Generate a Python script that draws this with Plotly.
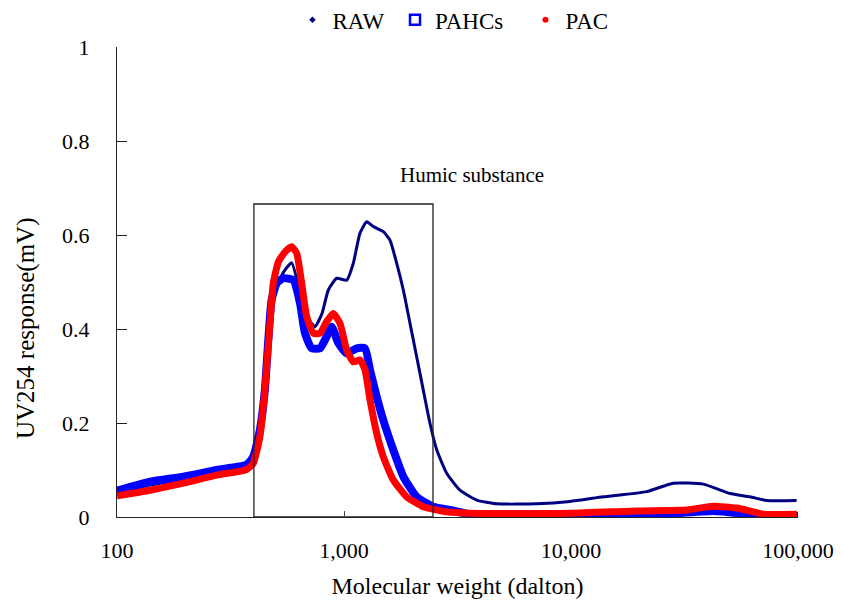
import math
import plotly.graph_objects as go

# ---------------- data ----------------
raw_mw = [100, 140, 196, 275, 372, 398, 426, 448, 464, 480, 505, 540, 588, 651, 700, 745,
          800, 853, 929, 1028, 1099, 1176, 1259, 1346, 1490, 1594, 1706, 1825, 1953, 2090,
          2235, 2393, 2561, 2834, 3243, 3843, 4706, 7063, 9899, 13880, 21560, 28230,
          38260, 50160, 61440, 72780, 98600]
raw_uv = [0.052, 0.068, 0.080, 0.095, 0.108, 0.122, 0.175, 0.260, 0.360, 0.440, 0.490, 0.520,
          0.541, 0.462, 0.420, 0.405, 0.433, 0.483, 0.508, 0.504, 0.540, 0.604, 0.628, 0.618,
          0.607, 0.589, 0.540, 0.483, 0.412, 0.341, 0.270, 0.199, 0.143, 0.093, 0.057,
          0.036, 0.028, 0.028, 0.033, 0.043, 0.054, 0.072, 0.070, 0.050, 0.043, 0.035, 0.035]

pahcs_mw = [100, 140, 196, 275, 372, 398, 426, 448, 464, 480, 505, 540, 598, 640, 673, 720,
            784, 839, 883, 944, 1028, 1138, 1237, 1302, 1393, 1490, 1648, 1825, 2090, 2473,
            2929, 3589, 9899, 22970, 42220, 55500, 70110, 100000]
pahcs_uv = [0.056, 0.075, 0.086, 0.100, 0.111, 0.128, 0.185, 0.270, 0.377, 0.462, 0.497,
            0.508, 0.504, 0.455, 0.391, 0.359, 0.359, 0.384, 0.405, 0.370, 0.348, 0.359,
            0.359, 0.313, 0.256, 0.206, 0.143, 0.086, 0.043, 0.022, 0.015, 0.006, 0.005,
            0.005, 0.013, 0.008, 0.002, 0.002]

pac_mw = [100, 140, 196, 275, 372, 398, 426, 448, 472, 488, 514, 550, 588, 619, 651, 685,
          733, 784, 839, 897, 960, 1028, 1099, 1176, 1237, 1302, 1393, 1490, 1648, 1888,
          2234, 2834, 3589, 9899, 19470, 32330, 42360, 53700, 63560, 70110, 98800]
pac_uv = [0.045, 0.057, 0.072, 0.089, 0.101, 0.114, 0.171, 0.270, 0.412, 0.497, 0.543,
          0.564, 0.575, 0.561, 0.497, 0.426, 0.391, 0.391, 0.416, 0.433, 0.412, 0.355,
          0.330, 0.334, 0.313, 0.249, 0.178, 0.128, 0.079, 0.043, 0.022, 0.011, 0.008,
          0.008, 0.013, 0.015, 0.023, 0.019, 0.011, 0.006, 0.006]

# Humic substance box (molecular weight range, response top)
box_mw = [401, 2466]
box_top = 0.666
label_mw = 3664
label_uv = 0.728

x_tickvals = [100, 1000, 10000, 100000]
x_ticktext = ["100", "1,000", "10,000", "100,000"]
y_tickvals = [0, 0.2, 0.4, 0.6, 0.8, 1]
y_ticktext = ["0", "0.2", "0.4", "0.6", "0.8", "1"]

FONT = "Liberation Serif"
NAVY = "#000080"
BLUE = "#0000FF"
RED = "#FF0000"
NB = "\u00a0"

fig = go.Figure()

# data curves
fig.add_trace(go.Scatter(x=raw_mw, y=raw_uv, mode="lines", showlegend=False,
                         line=dict(color=NAVY, width=3, shape="spline", smoothing=0.5),
                         hoverinfo="skip"))
fig.add_trace(go.Scatter(x=pahcs_mw, y=pahcs_uv, mode="lines", showlegend=False,
                         line=dict(color=BLUE, width=8, shape="spline", smoothing=0.5),
                         hoverinfo="skip"))
fig.add_trace(go.Scatter(x=pac_mw, y=pac_uv, mode="lines", showlegend=False,
                         line=dict(color=RED, width=7, shape="spline", smoothing=0.5),
                         hoverinfo="skip"))

# box for humic substance
fig.add_trace(go.Scatter(x=[box_mw[0], box_mw[1], box_mw[1], box_mw[0], box_mw[0]],
                         y=[0, 0, box_top, box_top, 0], mode="lines", showlegend=False,
                         line=dict(color="#222222", width=1.3), hoverinfo="skip"))

# legend entries
fig.add_trace(go.Scatter(x=[None], y=[None], mode="markers", name="RAW" + NB,
                         marker=dict(symbol="diamond", size=5, color=NAVY)))
fig.add_trace(go.Scatter(x=[None], y=[None], mode="markers", name="PAHCs" + NB * 3,
                         marker=dict(symbol="square-open", size=10, color=BLUE,
                                     line=dict(width=2.5, color=BLUE))))
fig.add_trace(go.Scatter(x=[None], y=[None], mode="markers", name="PAC",
                         marker=dict(symbol="circle", size=6, color=RED)))

fig.add_annotation(x=math.log10(label_mw), y=label_uv, xref="x", yref="y",
                   text="Humic substance", showarrow=False,
                   font=dict(family=FONT, size=21, color="black"))

# y-axis title (placed as in the reference, slightly below the axis centre)
fig.add_annotation(x=-0.1336, y=0.40, xref="paper", yref="paper",
                   text="UV254 response(mV)", textangle=-90, showarrow=False,
                   xanchor="center", yanchor="middle",
                   font=dict(family=FONT, size=25, color="black"))

fig.update_layout(
    width=843, height=603,
    margin=dict(l=117, r=45, t=47, b=86, autoexpand=False),
    paper_bgcolor="white", plot_bgcolor="white",
    font=dict(family=FONT, color="black"),
    legend=dict(orientation="h", x=0.2576, y=0.967, xref="paper", yref="container",
                xanchor="left", yanchor="middle",
                font=dict(family=FONT, size=23), itemwidth=30,
                bgcolor="rgba(0,0,0,0)"),
    xaxis=dict(type="log", range=[2, 5], tickvals=x_tickvals, ticktext=x_ticktext,
               showgrid=False, zeroline=False, showline=True, linecolor="#222222",
               linewidth=1.3, ticks="inside", ticklen=6, tickcolor="#444444",
               tickfont=dict(family=FONT, size=22), ticklabelstandoff=13,
               title=dict(text="Molecular weight (dalton)",
                          font=dict(family=FONT, size=24), standoff=15)),
    yaxis=dict(range=[0, 1], tickvals=y_tickvals, ticktext=y_ticktext,
               showgrid=False, zeroline=False, showline=True, linecolor="#222222",
               linewidth=1.3, ticks="inside", ticklen=10, tickcolor="#222222",
               tickfont=dict(family=FONT, size=22), ticklabelstandoff=22),
)

fig.write_html("out.html")
